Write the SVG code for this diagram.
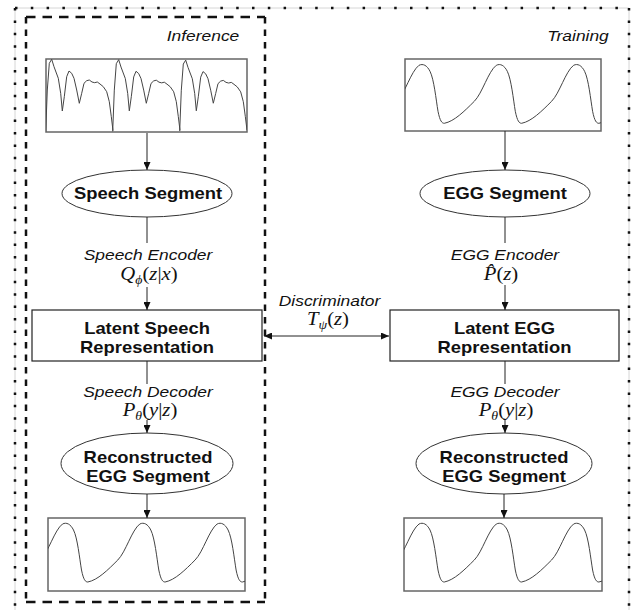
<svg xmlns="http://www.w3.org/2000/svg" xmlns:xlink="http://www.w3.org/1999/xlink" width="644" height="610" viewBox="0 0 644 610">
<defs>
<style>
.lbl{font-family:"Liberation Sans",Arial,sans-serif;font-style:italic;font-size:15px;fill:#111;text-anchor:middle}
.node{font-family:"Liberation Sans",Arial,sans-serif;font-weight:bold;font-size:16px;fill:#111;text-anchor:middle}
.math{font-family:"Liberation Serif","Times New Roman",serif;font-size:18px;fill:#111;text-anchor:middle}
.it{font-style:italic}
.sub{font-style:italic;font-size:12px}
.wbox{fill:#fff;stroke:#666;stroke-width:1.5}
.box{fill:#fff;stroke:#222;stroke-width:1.2}
.ell{fill:#fff;stroke:#333;stroke-width:1}
.conn{fill:none;stroke:#222;stroke-width:1}
.dotH{stroke:#111;stroke-width:2.5;stroke-dasharray:2.5 13.3;fill:none}
.dotV{stroke:#111;stroke-width:2.5;stroke-dasharray:2.5 9.9;fill:none}
.faint{stroke:#d6d6d6;stroke-width:1;fill:none}
.dashH{stroke:#111;stroke-width:2.5;stroke-dasharray:9.5 7;fill:none}
.dashV{stroke:#111;stroke-width:2.5;stroke-dasharray:6.5 6;fill:none}
</style>
<marker id="ah" markerWidth="8" markerHeight="7" refX="8" refY="3.5" orient="auto-start-reverse" markerUnits="userSpaceOnUse"><path d="M0,0 L8,3.5 L0,7 z" fill="#111"/></marker>
<polyline id="sp" fill="none" stroke="#444" stroke-width="1" stroke-linejoin="round" points="0,131.7 1.6,90 3.6,63.3 6,59.3 8.3,66.7 12.6,78.3 15,93.3 16.6,111 18.6,96.7 21,76.7 23.3,71 26,73.3 28.3,78.3 31,90 33.6,103.3 36,93.3 38.3,83.3 41,80.7 43.6,80 46.3,82 49,82.7 51.6,82 54.3,84 57.6,86.7 61,91.7 63.6,101.7 65.6,116.7 67.3,130.7"/>
<path id="eggc" fill="none" stroke="#444" stroke-width="1" d="M0,64 C10,62 20,52 30,42 C38,34 44,12 52,6 C56,4 60,6 63,12 C67,20 69,40 71,52 C73,62 75,64 77.3,64"/>
<clipPath id="c1"><rect x="46" y="59" width="201" height="73"/></clipPath>
<clipPath id="c2"><rect x="405" y="59" width="196" height="72"/></clipPath>
<clipPath id="c3"><rect x="48" y="518" width="197" height="73"/></clipPath>
<clipPath id="c4"><rect x="404" y="518" width="198" height="73"/></clipPath>
</defs>
<rect width="644" height="610" fill="#fff"/>

<g id="frames">
  <path class="faint" d="M15,8 H629 M15,8 V612 M629,8 V612"/>
  <path class="dotH" d="M15,8 H629"/>
  <path class="dotV" d="M15,8 V612"/>
  <path class="dotV" d="M629,8 V612"/>
  <path class="dashH" d="M26,17 H265"/>
  <path class="dashH" d="M26,602 H265"/>
  <path class="dashV" d="M26,17 V602"/>
  <path class="dashV" d="M265,17 V602"/>
  <text class="lbl" transform="translate(203,41) scale(1.16,1)">Inference</text>
  <text class="lbl" transform="translate(578,41) scale(1.16,1)">Training</text>
</g>

<g id="speech-waveform">
  <rect class="wbox" x="46" y="59" width="201" height="73"/>
  <g clip-path="url(#c1)">
    <use xlink:href="#sp" x="45.7"/>
    <use xlink:href="#sp" x="112.7" transform="translate(0,1) scale(1,0.99)"/>
    <use xlink:href="#sp" x="179.7" transform="translate(0,2) scale(1,0.98)"/>
  </g>
</g>

<g id="egg-waveform">
  <rect class="wbox" x="405" y="59" width="196" height="72"/>
  <g clip-path="url(#c2)">
    <use xlink:href="#eggc" x="367" y="59.3"/>
    <use xlink:href="#eggc" x="444.3" y="59.3"/>
    <use xlink:href="#eggc" x="521.6" y="59.3"/>
    <use xlink:href="#eggc" x="598.9" y="59.3"/>
  </g>
</g>

<g id="speech-segment">
  <ellipse class="ell" cx="147" cy="193.5" rx="85" ry="23.5"/>
  <text class="node" transform="translate(148,199) scale(1.15,1)">Speech Segment</text>
</g>

<g id="egg-segment">
  <ellipse class="ell" cx="505" cy="193.5" rx="85" ry="23.5"/>
  <text class="node" transform="translate(505,199) scale(1.15,1)">EGG Segment</text>
</g>

<g id="latent-speech">
  <rect class="box" x="32" y="310" width="230" height="51"/>
  <text class="node" transform="translate(147,334) scale(1.15,1)">Latent Speech</text>
  <text class="node" transform="translate(147,352.5) scale(1.15,1)">Representation</text>
</g>

<g id="latent-egg">
  <rect class="box" x="390" y="310" width="229" height="51"/>
  <text class="node" transform="translate(504.5,334) scale(1.15,1)">Latent EGG</text>
  <text class="node" transform="translate(504.5,352.5) scale(1.15,1)">Representation</text>
</g>

<g id="reconstructed-inference">
  <ellipse class="ell" cx="147" cy="463.5" rx="86" ry="30.5"/>
  <text class="node" transform="translate(148,463) scale(1.15,1)">Reconstructed</text>
  <text class="node" transform="translate(148,481.5) scale(1.15,1)">EGG Segment</text>
</g>

<g id="reconstructed-training">
  <ellipse class="ell" cx="504" cy="463.5" rx="88" ry="30.5"/>
  <text class="node" transform="translate(504,463) scale(1.15,1)">Reconstructed</text>
  <text class="node" transform="translate(504,481.5) scale(1.15,1)">EGG Segment</text>
</g>

<g id="output-waveform-inference">
  <rect class="wbox" x="48" y="518" width="197" height="73"/>
  <g clip-path="url(#c3)">
    <use xlink:href="#eggc" x="10.5" y="518"/>
    <use xlink:href="#eggc" x="87.8" y="518"/>
    <use xlink:href="#eggc" x="165.1" y="518"/>
    <use xlink:href="#eggc" x="242.4" y="518"/>
  </g>
</g>

<g id="output-waveform-training">
  <rect class="wbox" x="404" y="518" width="198" height="73"/>
  <g clip-path="url(#c4)">
    <use xlink:href="#eggc" x="367" y="518"/>
    <use xlink:href="#eggc" x="444.3" y="518"/>
    <use xlink:href="#eggc" x="521.6" y="518"/>
    <use xlink:href="#eggc" x="598.9" y="518"/>
  </g>
</g>

<g id="connectors">
  <line class="conn" x1="147" y1="133" x2="147" y2="170" marker-end="url(#ah)"/>
  <line class="conn" x1="505" y1="131" x2="505" y2="170" marker-end="url(#ah)"/>
  <line class="conn" x1="147" y1="217" x2="147" y2="243"/>
  <line class="conn" x1="147" y1="287" x2="147" y2="310" marker-end="url(#ah)"/>
  <line class="conn" x1="505" y1="217" x2="505" y2="243"/>
  <line class="conn" x1="505" y1="285" x2="505" y2="310" marker-end="url(#ah)"/>
  <line class="conn" x1="264" y1="336" x2="389" y2="336" marker-start="url(#ah)" marker-end="url(#ah)"/>
  <line class="conn" x1="147" y1="361" x2="147" y2="384"/>
  <line class="conn" x1="147" y1="420" x2="147" y2="433" marker-end="url(#ah)"/>
  <line class="conn" x1="505" y1="361" x2="505" y2="384"/>
  <line class="conn" x1="505" y1="420" x2="505" y2="433" marker-end="url(#ah)"/>
  <line class="conn" x1="147" y1="494" x2="147" y2="518" marker-end="url(#ah)"/>
  <line class="conn" x1="504" y1="494" x2="504" y2="518" marker-end="url(#ah)"/>
  <g id="connector-labels">
    <text class="lbl" transform="translate(148,260) scale(1.16,1)">Speech Encoder</text>
    <text class="math" transform="translate(149,280) scale(1.15,1)"><tspan class="it">Q</tspan><tspan class="sub" dy="4">ϕ</tspan><tspan dy="-4">(</tspan><tspan class="it">z</tspan>|<tspan class="it">x</tspan>)</text>
    <text class="lbl" transform="translate(505,260) scale(1.16,1)">EGG Encoder</text>
    <text class="math" transform="translate(501,280) scale(1.15,1)"><tspan class="it">P̂</tspan>(<tspan class="it">z</tspan>)</text>
    <text class="lbl" transform="translate(329.5,305.5) scale(1.16,1)">Discriminator</text>
    <text class="math" transform="translate(328,325) scale(1.15,1)"><tspan class="it">T</tspan><tspan class="sub" dy="4">ψ</tspan><tspan dy="-4">(</tspan><tspan class="it">z</tspan>)</text>
    <text class="lbl" transform="translate(148,396.5) scale(1.16,1)">Speech Decoder</text>
    <text class="math" transform="translate(150,416) scale(1.15,1)"><tspan class="it">P</tspan><tspan class="sub" dy="4">θ</tspan><tspan dy="-4">(</tspan><tspan class="it">y</tspan>|<tspan class="it">z</tspan>)</text>
    <text class="lbl" transform="translate(505,396.5) scale(1.16,1)">EGG Decoder</text>
    <text class="math" transform="translate(506,416) scale(1.15,1)"><tspan class="it">P</tspan><tspan class="sub" dy="4">θ</tspan><tspan dy="-4">(</tspan><tspan class="it">y</tspan>|<tspan class="it">z</tspan>)</text>
  </g>
</g>
</svg>
